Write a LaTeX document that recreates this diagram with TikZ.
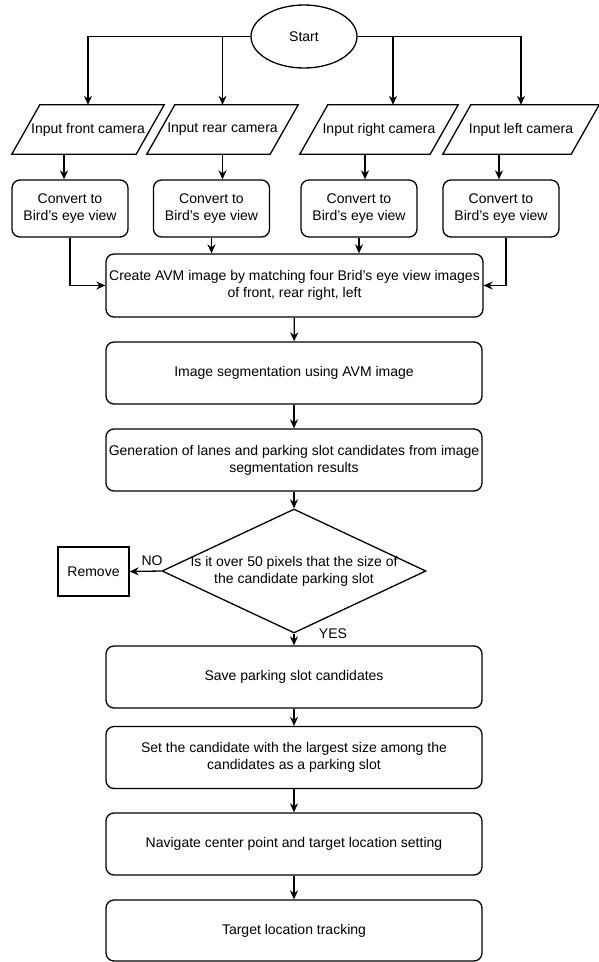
\documentclass[tikz,border=0pt]{standalone}
\usepackage{fontspec}
\setmainfont{Liberation Sans}
\usetikzlibrary{shapes.geometric,arrows.meta}
\newcommand\drawpara[1]{\draw[line width=1.3pt] ([xshift=14pt]#1.north west) -- ([xshift=14pt]#1.north east) -- ([xshift=-14pt]#1.south east) -- ([xshift=-14pt]#1.south west) -- cycle;}
\begin{document}
\begin{tikzpicture}[x=1pt,y=-1pt,
  every node/.style={font=\fontsize{14}{17}\selectfont, align=center},
  arr/.style={line width=1.3pt,-{Stealth[length=9pt,width=8pt]}},
  box/.style={draw, line width=1.3pt, rounded corners=8pt, minimum width=376pt, minimum height=62pt, inner sep=0},
  cbox/.style={draw, line width=1.3pt, rounded corners=8pt, minimum width=116pt, minimum height=57pt, inner sep=0},
  para/.style={minimum height=49pt, inner sep=0},
]
\fill[white] (0,0) rectangle (599,962);
\useasboundingbox (0,0) rectangle (599,962);

\node[draw, ellipse, line width=1.3pt, minimum width=106pt, minimum height=63pt, inner sep=0] (start) at (304,36.5) {Start};

\node[para, minimum width=124pt] (pf) at (88,129.5) {Input front camera};
\node[para, minimum width=123pt] (pr) at (222.5,129.5) {Input rear camera};
\node[para, minimum width=130pt] (pt) at (379,129.5) {Input right camera};
\node[para, minimum width=128pt] (pl) at (521,129.5) {Input left camera};
\drawpara{pf}
\drawpara{pr}
\drawpara{pt}
\drawpara{pl}

\node[cbox] (cf) at (70,208.5) {Convert to\\Bird's eye view};
\node[cbox] (cr) at (211.5,208.5) {Convert to\\Bird's eye view};
\node[cbox] (ct) at (359,208.5) {Convert to\\Bird's eye view};
\node[cbox] (cl) at (501,208.5) {Convert to\\Bird's eye view};

\node[box, minimum width=377pt, minimum height=63pt] (avm) at (294.5,285.5) {Create AVM image by matching four Brid's eye view images\\of front, rear right, left};
\node[box] (seg) at (294,373) {Image segmentation using AVM image};
\node[box] (gen) at (294,460) {Generation of lanes and parking slot candidates from image\\segmentation results};
\node[draw, diamond, line width=1.3pt, minimum width=264pt, minimum height=124pt, inner sep=0,
  label={[align=center]center:Is it over 50 pixels that the size of\\the candidate parking slot}] (dec) at (294,571) {};
\node[draw, line width=1.3pt, minimum width=71pt, minimum height=49pt, inner sep=0] (rem) at (93.5,571.5) {Remove};
\node[box] (save) at (294,677) {Save parking slot candidates};
\node[box] (set) at (294,757.5) {Set the candidate with the largest size among the\\candidates as a parking slot};
\node[box] (nav) at (294,844) {Navigate center point and target location setting};
\node[box, minimum height=61pt] (tgt) at (294,930.5) {Target location tracking};

% start to inputs
\draw[arr] (start.west) -| (pf.north);
\draw[arr] (start.west -| pr.north) -- (pr.north);
\draw[arr] (start.east) -| (pl.north);
\draw[arr] ([xshift=14pt]start.east -| pt.north) -- ([xshift=14pt]pt.north);

% inputs to convert
\draw[arr] ([xshift=-24pt]pf.south) -- ([xshift=-24pt]pf.south |- cf.north);
\draw[arr] (pr.south) -- (pr.south |- cr.north);
\draw[arr] ([xshift=-14pt]pt.south) -- ([xshift=-14pt]pt.south |- ct.north);
\draw[arr] ([xshift=-22pt]pl.south) -- ([xshift=-22pt]pl.south |- cl.north);

% convert to AVM
\draw[arr] (cf.south) |- (avm.west);
\draw[arr] (cr.south) -- (cr.south |- avm.north);
\draw[arr] (ct.south) -- (ct.south |- avm.north);
\draw[arr] ([xshift=5pt]cl.south) |- (avm.east);

% main column
\draw[arr] (avm) -- (seg);
\draw[arr] (seg) -- (gen);
\draw[arr] (gen) -- (dec);
\draw[arr] (dec.west) -- (rem.east);
\node (no) at (152,561) {NO};
\draw[arr] (dec.south) -- (save.north);
\node (yes) at (333,634) {YES};
\draw[arr] (save) -- (set);
\draw[arr] (set) -- (nav);
\draw[arr] (nav) -- (tgt);
\end{tikzpicture}
\end{document}
